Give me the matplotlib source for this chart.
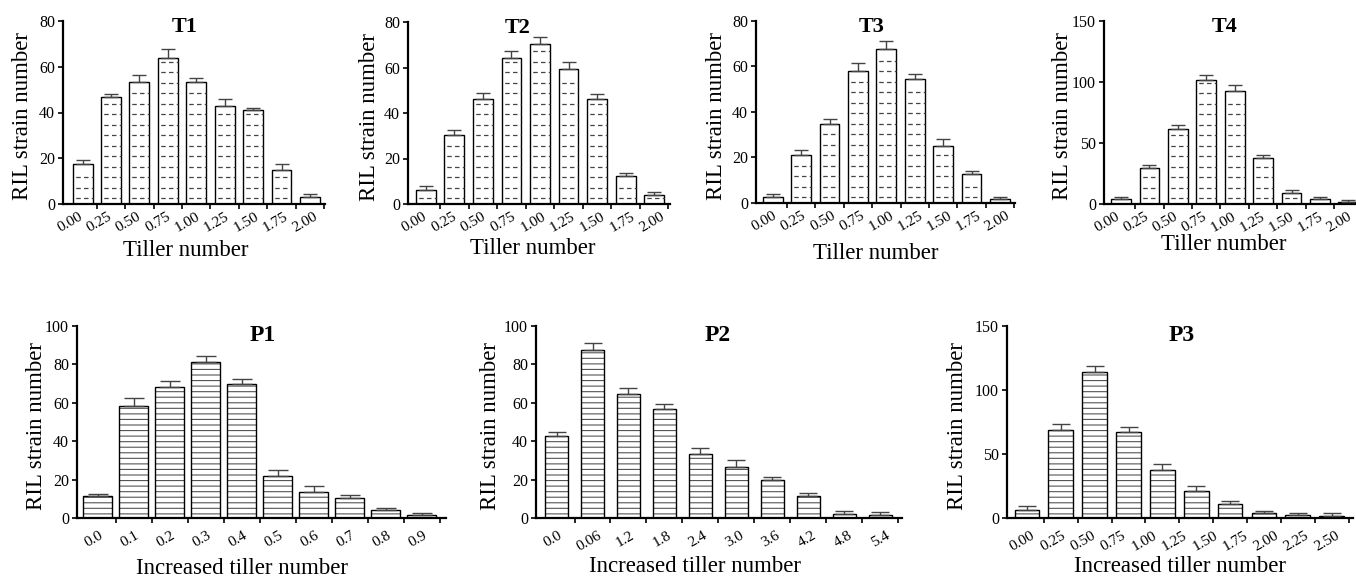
import numpy as np
import matplotlib
matplotlib.use('Agg')
import matplotlib.pyplot as plt

plt.rcParams['font.family'] = ['Liberation Serif', 'DejaVu Serif']
plt.rcParams['hatch.linewidth'] = 0.8

# -------- data
t_labels = ['0.00', '0.25', '0.50', '0.75', '1.00', '1.25', '1.50', '1.75', '2.00']
t1_vals = [17.6, 46.8, 53.4, 64.0, 53.4, 42.7, 41.0, 14.9, 3.1]
t1_err = [1.8, 1.2, 3.2, 3.9, 1.7, 3.4, 1.1, 2.4, 1.1]
t2_vals = [6.3, 30.3, 46.3, 64.3, 70.2, 59.2, 46.3, 12.3, 4.1]
t2_err = [1.5, 2.4, 2.5, 2.8, 3.2, 3.1, 2.1, 1.3, 1.3]
t3_vals = [2.8, 21.3, 34.8, 57.9, 67.8, 54.4, 24.9, 12.6, 1.9]
t3_err = [1.0, 1.9, 2.0, 3.5, 3.4, 2.3, 3.2, 1.6, 0.7]
t4_vals = [3.8, 29.2, 61.4, 102.0, 92.5, 37.6, 8.7, 3.8, 1.9]
t4_err = [1.7, 2.4, 3.2, 3.5, 4.9, 2.5, 2.5, 2.2, 1.4]

p1_labels = ['0.0', '0.1', '0.2', '0.3', '0.4', '0.5', '0.6', '0.7', '0.8', '0.9']
p1_vals = [11.2, 58.3, 68.3, 81.3, 69.6, 22.1, 13.3, 10.4, 4.3, 1.7]
p1_err = [1.4, 4.3, 3.0, 3.3, 2.9, 2.8, 3.5, 1.7, 0.9, 1.1]
p2_labels = ['0.0', '0.06', '1.2', '1.8', '2.4', '3.0', '3.6', '4.2', '4.8', '5.4']
p2_vals = [42.7, 87.4, 64.4, 56.6, 33.4, 26.8, 19.7, 11.2, 2.1, 1.6]
p2_err = [2.3, 3.6, 3.1, 2.9, 2.9, 3.3, 1.4, 1.8, 1.7, 1.5]
p3_labels = ['0.00', '0.25', '0.50', '0.75', '1.00', '1.25', '1.50', '1.75',
             '2.00', '2.25', '2.50']
p3_vals = [6.5, 68.8, 114.2, 67.2, 37.6, 21.3, 10.6, 3.9, 2.1, 1.3]
p3_err = [2.6, 4.4, 4.7, 3.7, 4.7, 3.6, 2.4, 1.6, 1.5, 2.3]

W, H = 1356, 577
fig = plt.figure(figsize=(W / 100, H / 100), dpi=100)


def panel(box, vals, errs, labels, title, ymax, ystep, xlim, width, dashed,
          lab_off, lab_step, lab_pad, ylab_dx, xlab, xlab_x, xlab_dy,
          title_xy, title_size, cap):
    left, right, top, bottom = box
    ax = fig.add_axes([left / W, 1 - bottom / H, (right - left) / W, (bottom - top) / H])
    n = len(vals)
    x = np.arange(n)

    # -------- bars
    if dashed:
        ax.bar(x, vals, width=width, color='white', edgecolor='black', linewidth=1.0, zorder=2)
        step = 10.5 / ((bottom - top) / ymax)
        for xi, v in zip(x, vals):
            ys = np.arange(step * 0.55, v - step * 0.3, step)
            if len(ys):
                ax.hlines(ys, xi - width / 2, xi + width / 2, colors='#444444',
                          linewidth=0.9, linestyles=(4.0, (3.6, 2.6)), zorder=3)
    else:
        ax.bar(x, vals, width=width, color='white', edgecolor='#555555', linewidth=0,
               hatch='---', zorder=2)
        ax.bar(x, vals, width=width, fill=False, edgecolor='black', linewidth=1.0, zorder=3)
    ax.errorbar(x, vals, yerr=[np.zeros(n), errs], fmt='none', ecolor='#444444',
                elinewidth=1.0, capsize=cap, capthick=1.0, zorder=4)

    # -------- axes
    ax.set_xlim(xlim)
    ax.set_ylim(0, ymax)
    ax.set_yticks(np.arange(0, ymax + 1, ystep))
    for s in ['top', 'right']:
        ax.spines[s].set_visible(False)
    for s in ['left', 'bottom']:
        ax.spines[s].set_linewidth(1.6)
    ax.set_xticks([i + 0.5 for i in range(n) if i + 0.5 <= xlim[1]])
    ax.tick_params(axis='x', which='major', labelbottom=False, direction='out',
                   length=3.8, width=1.2)
    lpos = [lab_off + lab_step * i for i in range(len(labels))]
    ax.set_xticks(lpos, labels=labels, minor=True)
    ax.tick_params(axis='x', which='minor', length=0, pad=lab_pad, labelsize=11,
                   labelrotation=30)
    ax.tick_params(axis='y', direction='out', length=3.8, width=1.2, pad=2, labelsize=11.5)

    ax.set_ylabel('RIL strain number', fontsize=16.5, va='center')
    ax.yaxis.set_label_coords(ylab_dx / (right - left), 0.48)
    ax.set_xlabel(xlab, fontsize=16.5, va='center')
    ax.xaxis.set_label_coords(xlab_x, -xlab_dy / (bottom - top))
    ax.text(title_xy[0], title_xy[1], title, transform=ax.transAxes, ha='center',
            va='center', fontsize=title_size, fontweight='bold')
    return ax


tl = 'Tiller number'
pl = 'Increased tiller number'
panel((63, 325, 21, 204), t1_vals, t1_err, t_labels, 'T1', 80, 20, (-0.69, 8.53), 0.7, True,
      -0.45, 1.035, 4.5, -41, tl, 0.47, 46, (0.466, 0.967), 16, 4.8)
panel((408, 670, 22, 204), t2_vals, t2_err, t_labels, 'T2', 80, 20, (-0.63, 8.56), 0.7, True,
      -0.42, 1.044, 4.5, -39, tl, 0.475, 45, (0.42, 0.967), 16, 4.8)
panel((756, 1015, 21, 203), t3_vals, t3_err, t_labels, 'T3', 80, 20, (-0.59, 8.53), 0.7, True,
      -0.29, 1.025, 4.5, -40, tl, 0.463, 51, (0.448, 0.967), 16, 4.8)
panel((1104, 1356, 21, 204), t4_vals, t4_err, t_labels, 'T4', 150, 50, (-0.6, 8.27), 0.7, True,
      -0.48, 1.02, 4.5, -41, tl, 0.476, 41, (0.48, 0.967), 16, 4.8)
panel((77, 446, 326, 518), p1_vals, p1_err, p1_labels, 'P1', 100, 20, (-0.58, 9.67), 0.8, False,
      -0.1, 1.0, 8, -40, pl, 0.447, 50, (0.504, 0.953), 17, 7.5)
panel((536, 902, 326, 518), p2_vals, p2_err, p2_labels, 'P2', 100, 20, (-0.57, 9.6), 0.66, False,
      -0.1, 1.01, 8, -46, pl, 0.434, 49, (0.497, 0.953), 17, 6.8)
panel((1007, 1353, 326, 518), p3_vals, p3_err, p3_labels, 'P3', 150, 50, (-0.59, 9.63), 0.73, False,
      -0.14, 0.9, 8, -49, pl, 0.5, 49, (0.506, 0.953), 17, 6.6)

fig.savefig('out.png', dpi=100, facecolor='white')
